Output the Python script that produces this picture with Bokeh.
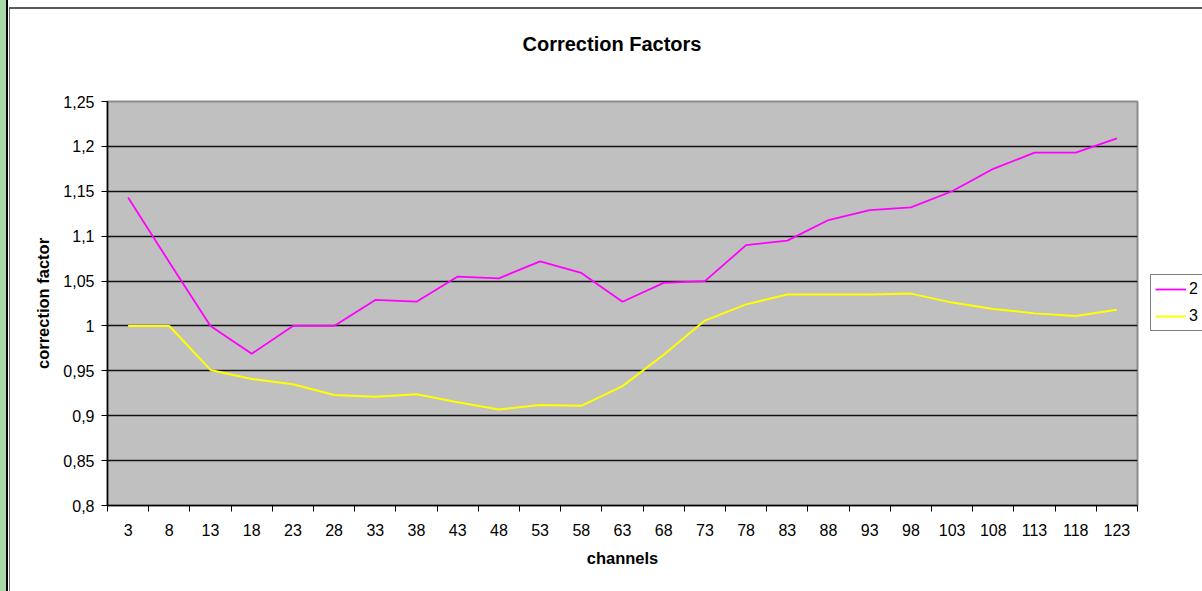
from bokeh.plotting import figure
from bokeh.models import FixedTicker, Legend, LegendItem, Grid, Title
from bokeh.embed import file_html
from bokeh.resources import INLINE

# channel numbers along the x axis
channels = [3, 8, 13, 18, 23, 28, 33, 38, 43, 48, 53, 58, 63, 68, 73,
            78, 83, 88, 93, 98, 103, 108, 113, 118, 123]

# correction factors per channel for the two series
series_2 = [1.143, 1.071, 1.000, 0.969, 1.000, 1.000, 1.029, 1.027, 1.055, 1.053,
            1.072, 1.059, 1.027, 1.048, 1.050, 1.090, 1.095, 1.118, 1.129, 1.132,
            1.150, 1.175, 1.193, 1.193, 1.209]
series_3 = [1.000, 1.000, 0.951, 0.941, 0.935, 0.923, 0.921, 0.924, 0.915, 0.907,
            0.912, 0.911, 0.933, 0.968, 1.006, 1.024, 1.035, 1.035, 1.035, 1.036,
            1.026, 1.019, 1.014, 1.011, 1.018]

series_names = ["2", "3"]

# y axis ticks with comma decimal labels
y_ticks = [0.8, 0.85, 0.9, 0.95, 1.0, 1.05, 1.1, 1.15, 1.2, 1.25]
y_tick_labels = ["0,8", "0,85", "0,9", "0,95", "1", "1,05", "1,1", "1,15", "1,2", "1,25"]

FONT = "Liberation Sans"

p = figure(frame_width=1030, frame_height=404, output_backend="svg",
           toolbar_location=None, title=None,
           x_range=(channels[0] - 2.5, channels[-1] + 2.5), y_range=(0.8, 1.25),
           min_border_left=107, min_border_right=65, min_border_top=101,
           min_border_bottom=86)

p.background_fill_color = "#c0c0c0"
p.border_fill_alpha = 0
p.outline_line_color = "#8c8c8c"
p.outline_line_width = 2

# page backdrop: green strip with a dark rule, then the chart-area border
p.styles = {
    "background": (
        "linear-gradient(#5a5a5a, #5a5a5a) 9px 7px / 1193px 2px no-repeat, "
        "linear-gradient(#707070, #707070) 9px 7px / 1px 584px no-repeat, "
        "linear-gradient(to right, #a8d8a8 0px, #a8d8a8 6px, #000000 6px, "
        "#000000 8px, #ffffff 8px) 0 0 / 100% 100% no-repeat"
    )
}

# title, lifted above the plot by an empty spacer row
p.add_layout(Title(text=" ", text_font_size="1px", standoff=39), "above")
p.add_layout(Title(text="Correction Factors", text_font=FONT, text_font_size="20px",
                   text_font_style="bold", text_color="black", align="left",
                   offset=415, standoff=10), "above")

# x axis: labels at channel centres, ticks between channels
step = channels[1] - channels[0]
bounds = [c - step / 2 for c in channels] + [channels[-1] + step / 2]
xa = p.xaxis[0]
xa.ticker = FixedTicker(ticks=channels, minor_ticks=bounds)
xa.major_tick_in = 0
xa.major_tick_out = 0
xa.minor_tick_in = 0
xa.minor_tick_out = 6
xa.minor_tick_line_color = "black"
xa.minor_tick_line_width = 1
xa.axis_line_color = "black"
xa.axis_line_width = 1.5
xa.major_label_standoff = 12
xa.major_label_text_font = FONT
xa.major_label_text_font_size = "16px"
xa.major_label_text_color = "black"
xa.axis_label = "channels"
xa.axis_label_text_font = FONT
xa.axis_label_text_font_size = "16.5px"
xa.axis_label_text_font_style = "bold"
xa.axis_label_text_color = "black"
xa.axis_label_standoff = 10

# y axis
ya = p.yaxis[0]
ya.ticker = FixedTicker(ticks=y_ticks, minor_ticks=[])
ya.major_label_overrides = {t: lab for t, lab in zip(y_ticks, y_tick_labels)}
ya.major_tick_in = 0
ya.major_tick_out = 6
ya.major_tick_line_color = "black"
ya.axis_line_color = "black"
ya.axis_line_width = 1.5
ya.major_label_standoff = 7
ya.major_label_text_font = FONT
ya.major_label_text_font_size = "16px"
ya.major_label_text_color = "black"
ya.axis_label = "correction factor"
ya.axis_label_text_font = FONT
ya.axis_label_text_font_size = "16.5px"
ya.axis_label_text_font_style = "bold"
ya.axis_label_text_color = "black"
ya.axis_label_standoff = 8

# grid: horizontal black lines only
p.xgrid.visible = False
p.ygrid.visible = False
p.add_layout(Grid(dimension=1, ticker=FixedTicker(ticks=y_ticks[1:-1]),
                  grid_line_color="#111111", grid_line_width=1.6))

r2 = p.line(channels, series_2, line_color="#ff00ff", line_width=1.8)
r3 = p.line(channels, series_3, line_color="#ffff00", line_width=2)

legend = Legend(items=[LegendItem(label=series_names[0], renderers=[r2]),
                       LegendItem(label=series_names[1], renderers=[r3])],
                location=(13, 174), orientation="vertical",
                border_line_color="black", border_line_width=1,
                background_fill_color="white", background_fill_alpha=1,
                label_text_font=FONT, label_text_font_size="16px",
                label_text_color="black",
                glyph_width=31, glyph_height=20, label_height=20, label_width=9,
                label_standoff=3, spacing=7, padding=4, margin=0)
p.add_layout(legend, "right")

open("out.html", "w").write(file_html(p, INLINE))
